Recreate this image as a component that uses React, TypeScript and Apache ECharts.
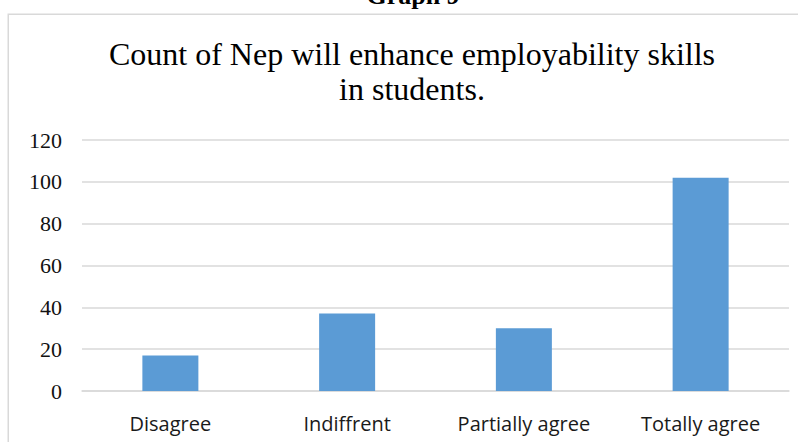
import React, { useEffect, useRef } from "react";
import * as echarts from "echarts";

const categories = ["Disagree", "Indiffrent", "Partially agree", "Totally agree"];
const counts = [17, 37, 30, 102];
const yTicks = { min: 0, max: 120, interval: 20 };
const caption = "Graph 9";
const chartTitle = "Count of Nep will enhance employability skills\nin students.";

export default function App() {
  const ref = useRef<HTMLDivElement>(null);

  useEffect(() => {
    if (!ref.current) return;
    const chart = echarts.init(ref.current, undefined, { renderer: "svg" });
    chart.setOption({
      animation: false,
      backgroundColor: "#ffffff",
      grid: { left: 82, right: 9, top: 140, bottom: 51, containLabel: false },
      xAxis: {
        type: "category",
        data: categories,
        axisLine: { show: true, lineStyle: { color: "#d9d9d9", width: 1.5 } },
        axisTick: { show: false },
        axisLabel: {
          color: "#1a1a1a",
          fontFamily: "'Open Sans', sans-serif",
          fontSize: 20,
          margin: 22,
        },
      },
      yAxis: {
        type: "value",
        min: yTicks.min,
        max: yTicks.max,
        interval: yTicks.interval,
        axisLine: { show: false },
        axisTick: { show: false },
        splitLine: { lineStyle: { color: "#d9d9d9", width: 1.5 } },
        axisLabel: {
          color: "#111111",
          fontFamily: "'Liberation Serif', 'Times New Roman', serif",
          fontSize: 22,
          margin: 20,
        },
      },
      series: [
        {
          type: "bar",
          data: counts,
          barWidth: 56,
          itemStyle: { color: "#5b9bd5" },
        },
      ],
      graphic: [
        {
          type: "rect",
          shape: { x: 8.25, y: 14.25, width: 1000, height: 1000 },
          style: { fill: "none", stroke: "#d9d9d9", lineWidth: 1.5 },
          silent: true,
        },
        {
          type: "text",
          style: {
            text: caption,
            x: 413,
            y: 8,
            textAlign: "center",
            textVerticalAlign: "bottom",
            font: "bold 26px 'Liberation Serif', 'Times New Roman', serif",
            fill: "#000000",
          },
        },
        {
          type: "text",
          style: {
            text: chartTitle,
            x: 412,
            y: 36,
            textAlign: "center",
            textVerticalAlign: "top",
            font: "32px 'Liberation Serif', 'Times New Roman', serif",
            lineHeight: 35,
            fill: "#000000",
          },
        },
      ],
    });
    return () => chart.dispose();
  }, []);

  return (
    <div
      ref={ref}
      style={{ position: "fixed", left: 0, top: 0, width: 798, height: 442 }}
    />
  );
}
